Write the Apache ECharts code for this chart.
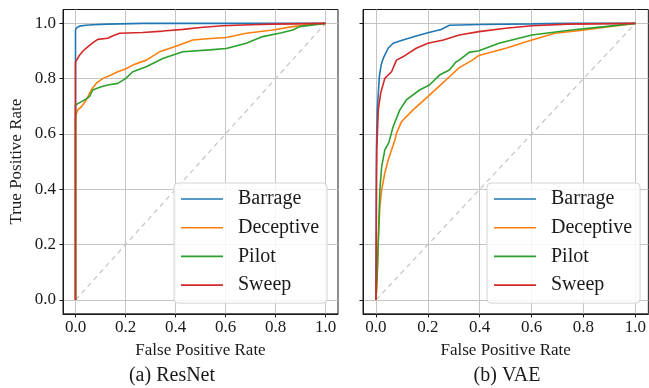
<!DOCTYPE html>
<html><head><meta charset="utf-8">
<script src="https://cdn.jsdelivr.net/npm/echarts@6/dist/echarts.min.js"></script>
<style>html,body{margin:0;padding:0;background:#fff}#c{width:649px;height:388px}</style>
</head><body><div id="c"></div>
<script>
const seriesNames = ['Barrage', 'Deceptive', 'Pilot', 'Sweep'];
const seriesColors = ['#1f77b4', '#ff7f0e', '#2ca02c', '#d62728'];
const tickValues = [0, 0.2, 0.4, 0.6, 0.8, 1.0];
const panelTitles = ['(a) ResNet', '(b) VAE'];
const xAxisTitle = 'False Positive Rate';
const yAxisTitle = 'True Positive Rate';
const chanceLine = [[0, 0], [1, 1]];

// ResNet ROC curves [FPR, TPR]
const resnetBarrage = [[0,0],[0,0.975],[0.004,0.983],[0.016,0.99],[0.04,0.993],[0.07,0.995],[0.13,0.997],[0.27,1.0],[1,1]];
const resnetDeceptive = [[0,0],[0,0.66],[0.004,0.675],[0.009,0.687],[0.025,0.7],[0.043,0.723],[0.063,0.759],[0.085,0.785],[0.11,0.801],[0.14,0.812],[0.169,0.825],[0.2,0.835],[0.229,0.849],[0.283,0.867],[0.336,0.897],[0.396,0.915],[0.469,0.94],[0.54,0.945],[0.603,0.949],[0.683,0.964],[0.789,0.976],[0.869,0.988],[0.93,0.995],[1,1]];
const resnetPilot = [[0,0],[0,0.705],[0.02,0.715],[0.04,0.725],[0.056,0.735],[0.069,0.759],[0.1,0.77],[0.129,0.777],[0.169,0.783],[0.2,0.8],[0.229,0.825],[0.283,0.843],[0.349,0.873],[0.429,0.897],[0.536,0.904],[0.603,0.909],[0.683,0.928],[0.749,0.952],[0.82,0.965],[0.869,0.976],[0.896,0.988],[1,1]];
const resnetSweep = [[0,0],[0,0.86],[0.004,0.867],[0.016,0.885],[0.03,0.9],[0.043,0.91],[0.07,0.93],[0.089,0.942],[0.129,0.946],[0.15,0.955],[0.176,0.964],[0.269,0.967],[0.35,0.972],[0.43,0.978],[0.5,0.985],[0.589,0.991],[0.7,0.995],[0.789,0.997],[1,1]];

// VAE ROC curves [FPR, TPR]
const vaeBarrage = [[0,0],[0.002,0.55],[0.005,0.687],[0.013,0.807],[0.02,0.85],[0.028,0.873],[0.047,0.91],[0.066,0.928],[0.104,0.94],[0.155,0.954],[0.2,0.966],[0.251,0.978],[0.283,0.993],[0.4,0.996],[0.6,0.998],[0.73,1],[1,1]];
const vaeDeceptive = [[0,0],[0.003,0.05],[0.005,0.096],[0.009,0.217],[0.015,0.337],[0.022,0.398],[0.034,0.458],[0.047,0.506],[0.06,0.542],[0.073,0.578],[0.079,0.602],[0.098,0.644],[0.143,0.687],[0.2,0.735],[0.245,0.774],[0.283,0.807],[0.321,0.84],[0.372,0.867],[0.397,0.884],[0.5,0.91],[0.601,0.94],[0.69,0.964],[0.78,0.973],[0.882,0.986],[1,1]];
const vaePilot = [[0,0],[0.005,0.1],[0.009,0.217],[0.015,0.398],[0.022,0.482],[0.034,0.542],[0.05,0.57],[0.066,0.626],[0.092,0.687],[0.117,0.723],[0.168,0.759],[0.206,0.777],[0.245,0.813],[0.283,0.831],[0.308,0.86],[0.321,0.867],[0.359,0.895],[0.397,0.901],[0.474,0.928],[0.601,0.958],[0.754,0.976],[0.882,0.988],[1,1]];
const vaeSweep = [[0,0],[0.002,0.45],[0.003,0.542],[0.009,0.687],[0.018,0.747],[0.034,0.801],[0.06,0.825],[0.079,0.867],[0.104,0.879],[0.155,0.91],[0.2,0.928],[0.26,0.94],[0.321,0.958],[0.397,0.97],[0.5,0.982],[0.601,0.991],[0.741,0.997],[1,1]];

const panels = [
  [resnetBarrage, resnetDeceptive, resnetPilot, resnetSweep],
  [vaeBarrage, vaeDeceptive, vaePilot, vaeSweep]
];

const FONT = '"Liberation Serif", "DejaVu Serif", serif';
const INK = '#1a1a1a';
const GRIDC = '#c4c4c4';

function xAxisFor(gi) {
  return {
    type: 'value', gridIndex: gi, min: -0.05, max: 1.05,
    axisLine: { show: true, onZero: false, lineStyle: { color: INK, width: 1 } },
    axisTick: { show: true, customValues: tickValues, length: 3.5, lineStyle: { color: INK } },
    axisLabel: { customValues: tickValues, formatter: v => v.toFixed(1), fontFamily: FONT, fontSize: 17, color: INK, margin: 5 },
    splitLine: { show: true, lineStyle: { color: GRIDC, width: 1 } },
    name: xAxisTitle, nameLocation: 'middle', nameGap: 28,
    nameTextStyle: { fontFamily: FONT, fontSize: 17, color: INK }
  };
}
function yAxisFor(gi, showLabels) {
  const ax = {
    type: 'value', gridIndex: gi, min: -0.05, max: 1.05,
    axisLine: { show: true, onZero: false, lineStyle: { color: INK, width: 1 } },
    axisTick: { show: true, customValues: tickValues, length: 3.5, lineStyle: { color: INK } },
    axisLabel: { show: showLabels, customValues: tickValues, formatter: v => v.toFixed(1), fontFamily: FONT, fontSize: 17, color: INK, margin: 7 },
    splitLine: { show: true, lineStyle: { color: GRIDC, width: 1 } }
  };
  if (showLabels) {
    ax.name = yAxisTitle; ax.nameLocation = 'middle'; ax.nameGap = 38;
    ax.nameTextStyle = { fontFamily: FONT, fontSize: 17, color: INK };
  }
  return ax;
}

const series = [];
panels.forEach((curves, gi) => {
  series.push({
    type: 'line', xAxisIndex: gi, yAxisIndex: gi, data: chanceLine, showSymbol: false, symbol: 'none',
    lineStyle: { color: '#c8c8c8', width: 1.3, type: [5, 4] }, silent: true, z: 1
  });
  curves.forEach((d, si) => {
    series.push({
      name: seriesNames[si], type: 'line', xAxisIndex: gi, yAxisIndex: gi, data: d,
      symbol: 'none', showSymbol: false, color: seriesColors[si],
      lineStyle: { color: seriesColors[si], width: 1.6 }, z: 2 + si
    });
  });
});

function legendFor(left) {
  return {
    orient: 'vertical', left: left, top: 183, data: seriesNames,
    icon: 'rect', itemWidth: 42, itemHeight: 1.6, itemGap: 8.7,
    padding: [6, 8, 8, 7],
    backgroundColor: 'rgba(255,255,255,0.85)', borderColor: '#d4d4d4', borderWidth: 1, borderRadius: 4,
    textStyle: { fontFamily: FONT, fontSize: 20, color: INK, lineHeight: 20, padding: [0, 0, 0, 10] },
    selectedMode: false
  };
}

const chart = echarts.init(document.getElementById('c'), null, { renderer: 'canvas' });
chart.setOption({
  animation: false,
  backgroundColor: '#fff',
  grid: [
    { left: 63, top: 9.5, width: 275, height: 304.3, show: true, borderColor: INK, borderWidth: 1, backgroundColor: 'transparent' },
    { left: 363, top: 9.5, width: 288, height: 304.3, show: true, borderColor: INK, borderWidth: 1, backgroundColor: 'transparent' }
  ],
  xAxis: [xAxisFor(0), xAxisFor(1)],
  yAxis: [yAxisFor(0, true), yAxisFor(1, false)],
  legend: [legendFor(174), legendFor(487)],
  series: series,
  graphic: [
    { type: 'text', x: 172, y: 376, style: { text: panelTitles[0], font: '20px ' + FONT, fill: INK, textAlign: 'center', textVerticalAlign: 'middle' } },
    { type: 'text', x: 507, y: 376, style: { text: panelTitles[1], font: '20px ' + FONT, fill: INK, textAlign: 'center', textVerticalAlign: 'middle' } }
  ]
});
</script>
</body></html>
